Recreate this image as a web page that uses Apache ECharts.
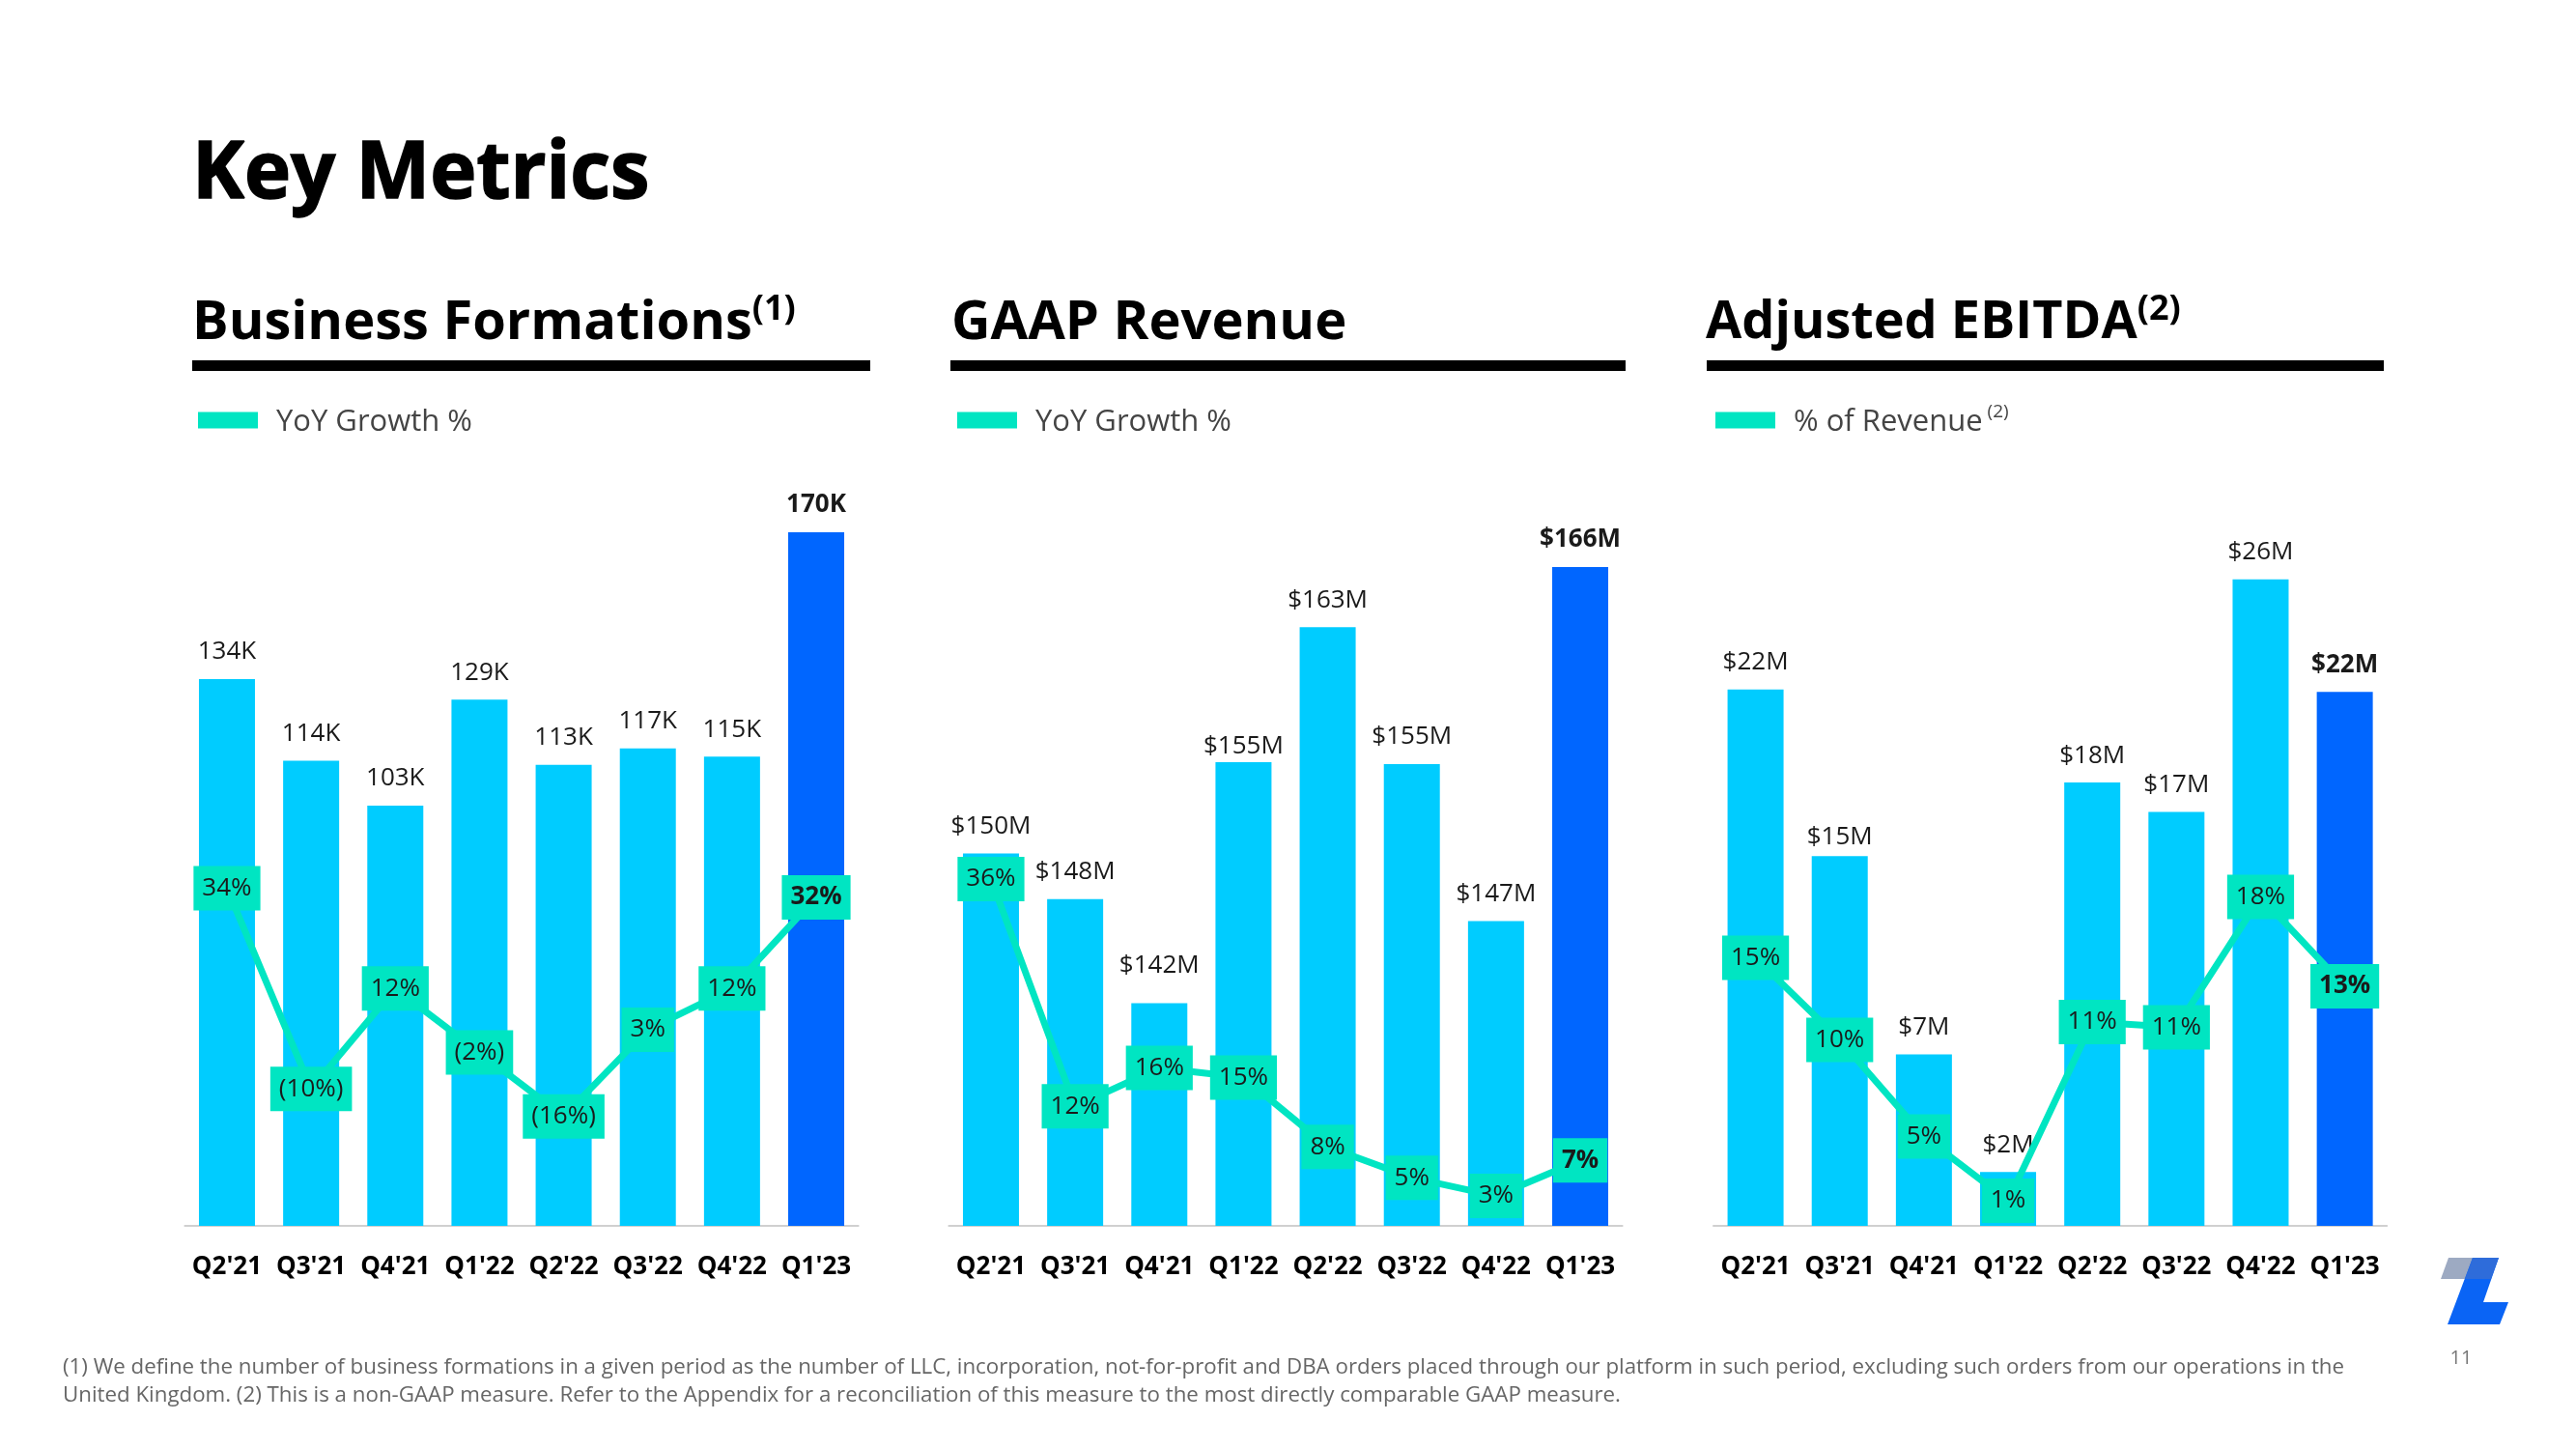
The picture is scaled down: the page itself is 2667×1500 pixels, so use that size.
<!DOCTYPE html>
<html><head><meta charset="utf-8">
<script src="https://cdn.jsdelivr.net/npm/echarts@6/dist/echarts.min.js"></script>
<style>html,body{margin:0;padding:0;background:#fff}#c{width:2667px;height:1500px}</style>
</head><body><div id="c"></div>
<script>
const categories = ["Q2'21","Q3'21","Q4'21","Q1'22","Q2'22","Q3'22","Q4'22","Q1'23"];
const formationsK = [134,114,103,129,113,117,115,170];
const formationsYoY = [34,-10,12,-2,-16,3,12,32];
const revenueM = [150.4,147.9,142.2,155.4,162.8,155.3,146.7,166.1];
const revenueYoY = [36.0,12.4,16.4,15.4,8.2,5.0,3.1,6.8];
const ebitdaM = [21.9,15.1,7.0,2.2,18.1,16.9,26.4,21.8];
const ebitdaPct = [15.0,10.4,5.0,1.4,11.4,11.1,18.4,13.4];

const FONT = "'Open Sans', sans-serif";
const LIGHT = '#00CCFF', DARK = '#0066FF', MINT = '#00E5C2';

// per-label distance tweaks (layout only) to mirror the original slide's label placement
const labelDistance = [
  {},
  {2: 26, 3: 3},
  {1: 7}
];

const panels = [
  {bars: formationsK, line: formationsYoY, left: 191.4, barMin: 0, barMax: 170, lineMin: -40, lineMax: 112,
   barFmt: v => Math.round(v) + 'K',
   lineFmt: v => v < 0 ? '(' + Math.abs(Math.round(v)) + '%)' : Math.round(v) + '%',
   lineName: 'bf'},
  {bars: revenueM, line: revenueYoY, left: 982.4, barMin: 130, barMax: 168, lineMin: 0, lineMax: 72,
   barFmt: v => '$' + Math.round(v) + 'M',
   lineFmt: v => Math.round(v) + '%', lineName: 'rev'},
  {bars: ebitdaM, line: ebitdaPct, left: 1774, barMin: 0, barMax: 28.32, lineMin: 0, lineMax: 38.8,
   barFmt: v => '$' + Math.round(v) + 'M',
   lineFmt: v => Math.round(v) + '%', lineName: 'eb'}
];

const grid = [], xAxis = [], yAxis = [], series = [];
panels.forEach((p, i) => {
  grid.push({left: p.left, top: 551, width: 697.2, height: 718});
  xAxis.push({type: 'category', gridIndex: i, data: categories,
    axisLine: {show: true, lineStyle: {color: '#d0d0d0', width: 2}},
    axisTick: {show: false},
    axisLabel: {fontSize: 26, fontWeight: 'bold', color: '#000', margin: 30, fontFamily: FONT, interval: 0}});
  yAxis.push({type: 'value', gridIndex: i, min: p.barMin, max: p.barMax, show: false, splitLine: {show: false}});
  yAxis.push({type: 'value', gridIndex: i, min: p.lineMin, max: p.lineMax, show: false, splitLine: {show: false}});
  const last = p.bars.length - 1;
  series.push({type: 'bar', xAxisIndex: i, yAxisIndex: 2 * i, barWidth: 58,
    data: p.bars.map((v, k) => ({value: v,
      itemStyle: {color: k === last ? DARK : LIGHT},
      label: Object.assign({fontWeight: k === last ? 'bold' : 'normal'},
        labelDistance[i][k] !== undefined ? {distance: labelDistance[i][k]} : {})})),
    label: {show: true, position: 'top', distance: 15, fontSize: 26, color: '#1a1a1a', fontFamily: FONT,
      formatter: o => p.barFmt(o.value)},
    z: 2});
  series.push({type: 'line', name: p.lineName, xAxisIndex: i, yAxisIndex: 2 * i + 1,
    data: p.line.map((v, k) => ({value: v, label: {fontWeight: k === last ? 'bold' : 'normal'}})),
    lineStyle: {color: MINT, width: 7}, itemStyle: {color: MINT},
    symbol: 'rect', symbolSize: 4, showSymbol: true,
    label: {show: true, position: 'inside', backgroundColor: MINT, padding: [8, 9], fontSize: 26, lineHeight: 30,
      color: '#1a1a1a', fontFamily: FONT, formatter: o => p.lineFmt(o.value)},
    z: 5});
});

const legendText = {bf: 'YoY Growth %', rev: 'YoY Growth %', eb: '{a|% of Revenue}{s| (2)}'};
const legendLefts = [205, 991, 1776];
const legend = panels.map((p, i) => ({
  data: [p.lineName], left: legendLefts[i], top: 413, padding: 0, selectedMode: false,
  icon: 'rect', itemWidth: 62, itemHeight: 17,
  formatter: n => legendText[n],
  textStyle: {fontSize: 31, color: '#444', fontFamily: FONT, lineHeight: 40, padding: [4, 0, 0, 14],
    rich: {a: {fontSize: 31, color: '#444', fontFamily: FONT, lineHeight: 40},
           s: {fontSize: 19, color: '#444', fontFamily: FONT, lineHeight: 26, verticalAlign: 'top'}}}
}));

function titleRich(size) {
  return {
    a: {fontSize: size, fontWeight: 'bold', color: '#000', fontFamily: FONT, lineHeight: 64},
    s: {fontSize: 36, fontWeight: 'bold', color: '#000', fontFamily: FONT, lineHeight: 40, verticalAlign: 'top'}
  };
}
const title = [
  {text: '{a|Business Formations}{s|(1)}', left: 199, top: 303, padding: 0, textStyle: {rich: titleRich(56)}},
  {text: '{a|GAAP Revenue}', left: 985, top: 303, padding: 0, textStyle: {rich: titleRich(56)}},
  {text: '{a|Adjusted EBITDA}{s|(2)}', left: 1766, top: 303, padding: 0, textStyle: {rich: titleRich(54)}}
];

const footer = '(1) We define the number of business formations in a given period as the number of LLC, incorporation, not-for-profit and DBA orders placed through our platform in such period, excluding such orders from our operations in the\nUnited Kingdom. (2) This is a non-GAAP measure. Refer to the Appendix for a reconciliation of this measure to the most directly comparable GAAP measure.';

const graphic = [
  {type: 'text', x: 199, y: 181, scaleX: 0.98, scaleY: 1,
   style: {text: 'Key Metrics', fontSize: 83, fontWeight: 'bold', fontFamily: FONT, fill: '#000',
     stroke: '#000', lineWidth: 1.5, verticalAlign: 'middle', align: 'left'}},
  {type: 'rect', shape: {x: 199, y: 373, width: 702, height: 11}, style: {fill: '#000'}},
  {type: 'rect', shape: {x: 984, y: 373, width: 699, height: 11}, style: {fill: '#000'}},
  {type: 'rect', shape: {x: 1767, y: 373, width: 701, height: 11}, style: {fill: '#000'}},
  {type: 'text', x: 65, y: 1401, style: {text: footer, fontSize: 22.3, fill: '#666', lineHeight: 29, fontFamily: FONT}},
  {type: 'text', x: 2548, y: 1406, style: {text: '11', fontSize: 20, fill: '#777', fontFamily: FONT, align: 'center', verticalAlign: 'middle'}},
  {type: 'polygon', shape: {points: [[2535,1302],[2561,1302],[2553,1324],[2527,1324]]}, style: {fill: '#9DAAC2'}},
  {type: 'polygon', shape: {points: [[2560,1302],[2587,1302],[2571,1348],[2597,1348],[2588,1371],[2534,1371]]}, style: {fill: '#0A64F5'}},
  {type: 'polygon', shape: {points: [[2560,1302],[2587,1302],[2579,1324],[2552,1324]]}, style: {fill: '#2E6CDA'}}
];

const chart = echarts.init(document.getElementById('c'), null, {renderer: 'canvas'});
chart.setOption({
  animation: false,
  backgroundColor: '#fff',
  textStyle: {fontFamily: FONT},
  title, legend, grid, xAxis, yAxis, series, graphic
});
</script></body></html>
